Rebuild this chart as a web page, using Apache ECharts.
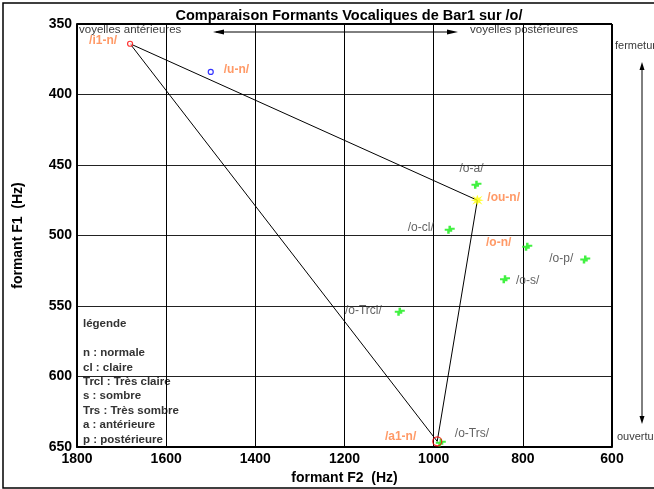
<!DOCTYPE html>
<html>
<head>
<meta charset="utf-8">
<script src="https://cdn.jsdelivr.net/npm/echarts@6/dist/echarts.min.js"></script>
<style>
  html, body { margin: 0; padding: 0; background: #fff; }
  #chart { width: 654px; height: 489px; }
</style>
</head>
<body>
<div id="chart"></div>
<script>
// Formant measurements (Hz) for each vowel realisation
const vowelNames = ['/o-a/', '/o-cl/', '/o-n/', '/o-p/', '/o-s/', '/o-Trcl/', '/o-Trs/'];
const vowelF2 = [904, 964, 790, 660, 840, 1076, 984];
const vowelF1 = [464, 496, 508, 517, 531, 554, 647];

// Reference vowels of the speaker
const refNames = ['/i1-n/', '/u-n/', '/ou-n/', '/a1-n/'];
const refF2 = [1681, 1500, 902, 992];
const refF1 = [364, 384, 475, 646];

// Vocalic triangle corners: /i1-n/ -> /ou-n/ -> /a1-n/ -> /i1-n/
const triangleOrder = ['/i1-n/', '/ou-n/', '/a1-n/', '/i1-n/'];

const xTicks = [600, 800, 1000, 1200, 1400, 1600, 1800];
const yTicks = [350, 400, 450, 500, 550, 600, 650];

const legendLines = ['légende', '', 'n : normale', 'cl : claire', 'Trcl : Très claire',
  's : sombre', 'Trs : Très sombre', 'a : antérieure', 'p : postérieure'];

// label placement for each point (pixel offsets from the symbol centre)
const vowelLabelPlace = {
  '/o-a/':    { align: 'left',  offset: [-17, -16] },
  '/o-cl/':   { align: 'right', offset: [-16, -2] },
  '/o-n/':    { align: 'right', offset: [-16, -4] },
  '/o-p/':    { align: 'right', offset: [-12, -1] },
  '/o-s/':    { align: 'left',  offset: [11, 1] },
  '/o-Trcl/': { align: 'right', offset: [-18, -1] },
  '/o-Trs/':  { align: 'left',  offset: [14, -9] }
};
const refLabelPlace = {
  '/i1-n/': { align: 'right', offset: [-13, -3] },
  '/u-n/':  { align: 'left',  offset: [13, -2] },
  '/ou-n/': { align: 'left',  offset: [10, -3] },
  '/a1-n/': { align: 'right', offset: [-21, -5] }
};
// orange for the normal realisations among the /o/ series
const orangeNames = ['/o-n/'];

const FONT = 'Liberation Sans, Arial, sans-serif';
const ORANGE = '#ff8040';
const GREY_TXT = '#3a3a3a';
const LABEL_SIZE = 12;

const clusterPath = 'path://M3,0 L5,0 L5,2 L8,2 L8,4 L6,4 L6,6 L4,6 L4,8 L2,8 L2,5 L0,5 L0,3 L3,3 Z';
const starPath = 'path://M5,0 L6,3 L9,1 L7,4 L10,5 L7,6 L9,9 L6,7 L5,10 L4,7 L1,9 L3,6 L0,5 L3,4 L1,1 L4,3 Z';

const chart = echarts.init(document.getElementById('chart'), null, { renderer: 'canvas' });

function vowelData() {
  return vowelNames.map((n, i) => {
    const p = vowelLabelPlace[n];
    const orange = orangeNames.includes(n);
    return {
      name: n,
      value: [vowelF2[i], vowelF1[i]],
      label: {
        show: true, formatter: n, position: 'inside', align: p.align, offset: p.offset,
        color: orange ? ORANGE : GREY_TXT, fontWeight: orange ? 'bold' : 'normal',
        fontSize: LABEL_SIZE, fontFamily: FONT
      }
    };
  });
}

function refStyle(n) {
  if (n === '/i1-n/') return { symbol: 'circle', symbolSize: 5, itemStyle: { color: '#fff', borderColor: '#ff0000', borderWidth: 1.2 } };
  if (n === '/u-n/') return { symbol: 'circle', symbolSize: 5, itemStyle: { color: '#fff', borderColor: '#0000ff', borderWidth: 1.2 } };
  if (n === '/a1-n/') return { symbol: 'circle', symbolSize: 9, itemStyle: { color: 'rgba(0,0,0,0)', borderColor: '#ff0000', borderWidth: 1.3 } };
  return { symbol: starPath, symbolSize: [13, 11], itemStyle: { color: '#ffff00' } };
}

function refData() {
  return refNames.map((n, i) => {
    const p = refLabelPlace[n];
    const s = refStyle(n);
    return {
      name: n,
      value: [refF2[i], refF1[i]],
      symbol: s.symbol, symbolSize: s.symbolSize, itemStyle: s.itemStyle,
      label: {
        show: true, formatter: n, position: 'inside', align: p.align, offset: p.offset,
        color: ORANGE, fontWeight: 'bold', fontSize: LABEL_SIZE, fontFamily: FONT
      }
    };
  });
}

const triangleData = triangleOrder.map(n => {
  const i = refNames.indexOf(n);
  return [refF2[i], refF1[i]];
});

// arrow decorations around the plot
const arrowStyle = { stroke: '#000', lineWidth: 1 };
const graphics = [
  { type: 'rect', shape: { x: 3, y: 3, width: 700, height: 485 }, style: { fill: 'none', stroke: '#000', lineWidth: 1.5 }, silent: true },
  { type: 'line', shape: { x1: 216, y1: 32, x2: 452, y2: 32 }, style: arrowStyle },
  { type: 'polygon', shape: { points: [[213, 32], [224, 29.5], [224, 34.5]] }, style: { fill: '#000' } },
  { type: 'polygon', shape: { points: [[458, 32], [447, 29.5], [447, 34.5]] }, style: { fill: '#000' } },
  { type: 'text', x: 79, y: 24, style: { text: 'voyelles antérieures', font: '11.5px ' + FONT, fill: GREY_TXT } },
  { type: 'text', x: 470, y: 24, style: { text: 'voyelles postérieures', font: '11.5px ' + FONT, fill: GREY_TXT } },
  { type: 'line', shape: { x1: 642, y1: 68, x2: 642, y2: 418 }, style: arrowStyle },
  { type: 'polygon', shape: { points: [[642, 62], [639.5, 70], [644.5, 70]] }, style: { fill: '#000' } },
  { type: 'polygon', shape: { points: [[642, 424], [639.5, 416], [644.5, 416]] }, style: { fill: '#000' } },
  { type: 'text', x: 615, y: 40, style: { text: 'fermeture', font: '11px ' + FONT, fill: GREY_TXT } },
  { type: 'text', x: 617, y: 431, style: { text: 'ouverture', font: '11px ' + FONT, fill: GREY_TXT } },
  {
    type: 'text', x: 83, y: 317,
    style: { text: legendLines.join('\n'), font: 'bold 11.5px ' + FONT, fill: '#333', lineHeight: 14.4 }
  }
];

chart.setOption({
  animation: false,
  backgroundColor: '#fff',
  title: {
    text: 'Comparaison Formants Vocaliques de Bar1 sur /o/',
    left: 344, top: 3, textAlign: 'center',
    textStyle: { fontFamily: FONT, fontSize: 14.5, fontWeight: 'bold', color: '#000' }
  },
  grid: { left: 77, right: 42, top: 24, bottom: 42, containLabel: false, outerBoundsMode: 'none' },
  xAxis: {
    type: 'value', inverse: true, min: 600, max: 1800, interval: 200,
    name: 'formant F2  (Hz)', nameLocation: 'middle', nameGap: 22,
    nameTextStyle: { fontFamily: FONT, fontSize: 14, fontWeight: 'bold', color: '#000' },
    axisLine: { show: true, onZero: false, lineStyle: { color: '#000', width: 2 } },
    axisTick: { show: false },
    axisLabel: {
      margin: 5, fontFamily: FONT, fontSize: 14, fontWeight: 'bold', color: '#000',
      formatter: v => xTicks.includes(v) ? String(v) : ''
    },
    splitLine: { show: true, lineStyle: { color: '#000', width: 1 } }
  },
  yAxis: {
    type: 'value', inverse: true, min: 350, max: 650, interval: 50,
    name: 'formant F1  (Hz)', nameLocation: 'middle', nameGap: 52, nameRotate: 90,
    nameTextStyle: { fontFamily: FONT, fontSize: 14, fontWeight: 'bold', color: '#000' },
    axisLine: { show: true, onZero: false, lineStyle: { color: '#000', width: 2 } },
    axisTick: { show: false },
    axisLabel: {
      margin: 5, fontFamily: FONT, fontSize: 14, fontWeight: 'bold', color: '#000',
      formatter: v => yTicks.includes(v) ? String(v) : ''
    },
    splitLine: { show: true, lineStyle: { color: '#222', width: 1 } }
  },
  series: [
    {
      // frame on the right/top edges of the plot
      type: 'line', data: [], silent: true,
      markLine: {
        silent: true, symbol: 'none', label: { show: false },
        lineStyle: { color: '#000', width: 2, type: 'solid' },
        data: [
          [{ coord: [600, 350] }, { coord: [600, 650] }],
          [{ coord: [1800, 350] }, { coord: [600, 350] }]
        ]
      }
    },
    {
      type: 'line', data: triangleData, symbol: 'none', silent: true,
      lineStyle: { color: '#000', width: 1 }, z: 2
    },
    {
      type: 'scatter', data: vowelData(), symbol: clusterPath, symbolSize: [10, 8],
      itemStyle: { color: '#11ee11' }, z: 3
    },
    {
      type: 'scatter', data: refData(), z: 4
    }
  ],
  graphic: graphics
});
</script>
</body>
</html>
